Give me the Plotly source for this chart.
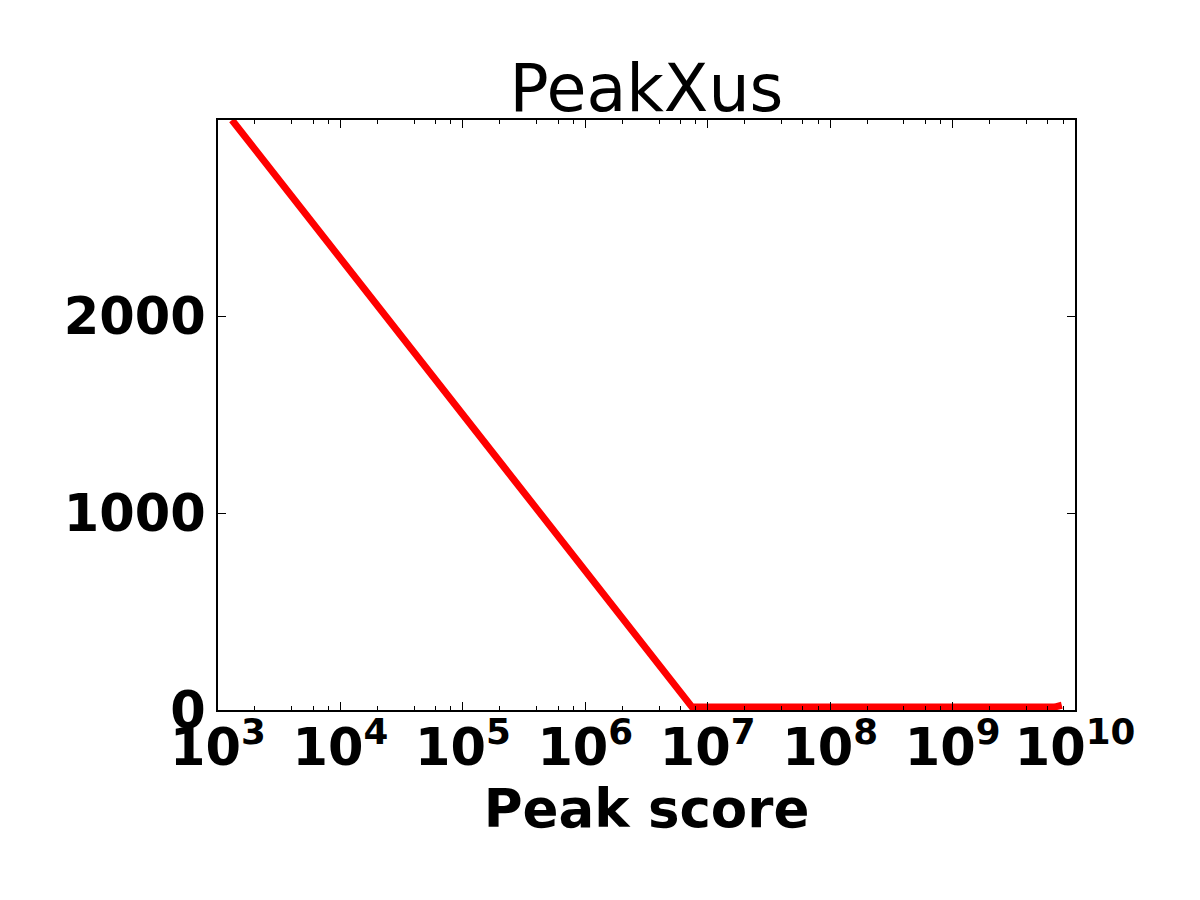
import plotly.graph_objects as go

# Data
peak_score = [1300, 7.45e6, 6.8e9, 7.8e9]
count = [2995, 15, 15, 24]

x_tick_vals = [1e3, 1e4, 1e5, 1e6, 1e7, 1e8, 1e9, 1e10]
x_tick_text = ["10<sup>3</sup>", "10<sup>4</sup>", "10<sup>5</sup>", "10<sup>6</sup>",
               "10<sup>7</sup>", "10<sup>8</sup>", "10<sup>9</sup>", "10<sup>10</sup>"]
x_minor_vals = [m * 10 ** e for e in range(3, 10) for m in (2, 4, 6, 8)]
y_tick_vals = [0, 1000, 2000]
y_tick_text = ["0", "1000", "2000"]

fig = go.Figure(
    go.Scatter(x=peak_score, y=count, mode="lines",
               line=dict(color="#ff0000", width=7), showlegend=False)
)

tick_font = dict(family="DejaVu Sans", size=51, color="black", weight="bold")

fig.update_layout(
    width=1192, height=892,
    margin=dict(l=210, r=125, t=112, b=190),
    plot_bgcolor="white", paper_bgcolor="white",
    title=dict(text="PeakXus", x=0.5, xref="paper", xanchor="center",
               y=1 - 80 / 892, yref="container", yanchor="middle",
               font=dict(family="DejaVu Sans", size=65, color="black")),
    xaxis=dict(
        type="log", range=[3, 10],
        tickvals=x_tick_vals, ticktext=x_tick_text,
        ticks="inside", ticklen=8, tickwidth=1, tickcolor="black",
        showline=True, linewidth=2, linecolor="black", mirror="ticks",
        showgrid=False, zeroline=False, tickfont=tick_font,
        ticklabelstandoff=-8,
        minor=dict(tickvals=x_minor_vals, ticks="inside", ticklen=4,
                   tickwidth=1, tickcolor="black", showgrid=False),
        title=dict(text="Peak score", standoff=14,
                   font=dict(family="DejaVu Sans", size=53, color="black", weight="bold")),
    ),
    yaxis=dict(
        range=[0, 2995],
        tickvals=y_tick_vals, ticktext=y_tick_text,
        ticks="inside", ticklen=8, tickwidth=1, tickcolor="black",
        showline=True, linewidth=2, linecolor="black", mirror="ticks",
        showgrid=False, zeroline=False, tickfont=tick_font,
    ),
)

fig.write_html("out.html")
